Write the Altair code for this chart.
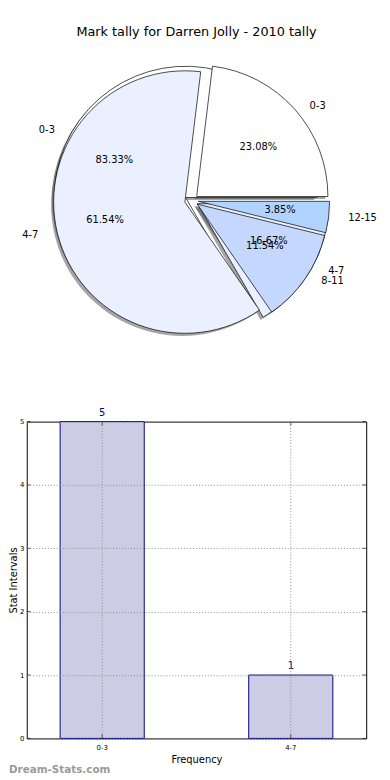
import altair as alt
import pandas as pd

TITLE = "Mark tally for Darren Jolly - 2010 tally"

# upper (drawn last) pie
top_labels = ["0-3", "4-7", "8-11", "12-15"]
top_values = [6, 16, 3, 1]
# underlying pie (drawn first)
base_labels = ["0-3", "4-7"]
base_values = [5, 1]
# bar chart
bar_labels = ["0-3", "4-7"]
bar_values = [5, 1]
y_ticks = [0, 1, 2, 3, 4, 5]

slice_colors = ["#ffffff", "#eaf0ff", "#c4d8ff", "#b0d4ff"]

FONT = "DejaVu Sans"
L = 26                      # page x of plot left edge
PIE_W, PIE_H = 370 - L, 340
BAR_W, BAR_H = 370 - L, 321
T1 = 44
CX, CY = 193 - L, 198 - T1
R = 133
RX, RY = 139, 125
EXPL = 0.05
PCT = 0.6
LAB = 1.1
SH = 2.6

pie_df = pd.DataFrame({
    "pie": ["base"] * len(base_labels) + ["top"] * len(top_labels),
    "label": base_labels + top_labels,
    "value": base_values + top_values,
    "idx": list(range(len(base_labels))) + list(range(len(top_labels))),
})

pie_base = (
    alt.Chart(pie_df)
    .transform_joinaggregate(total="sum(value)", groupby=["pie"])
    .transform_window(cum="sum(value)", sort=[alt.SortField("idx")],
                      groupby=["pie"], frame=[None, 0])
    .transform_calculate(
        a0="2*PI*(datum.cum - datum.value)/datum.total",
        a1="2*PI*datum.cum/datum.total",
    )
    .transform_calculate(
        mid="(datum.a0 + datum.a1)/2",
        t0="PI/2 - datum.a0",
        t1="PI/2 - datum.a1",
        pct="format(100*datum.value/datum.total, '.2f') + '%'",
    )
    .transform_calculate(
        cx=f"{CX} + {EXPL * RX}*cos(datum.mid)",
        cy=f"{CY} - {EXPL * RY}*sin(datum.mid)",
    )
    .transform_calculate(
        sx=f"datum.cx - {SH}",
        sy=f"datum.cy + {SH}",
        px=f"datum.cx + {PCT * RX}*cos(datum.mid)",
        py=f"datum.cy - {PCT * RY}*sin(datum.mid)",
        lx=f"datum.cx + {LAB * RX}*cos(datum.mid)",
        ly=f"datum.cy - {LAB * RY}*sin(datum.mid)",
        right="cos(datum.mid) > 0",
    )
)

shadow = pie_base.mark_arc(radius=R, fill="#4d4d4d", fillOpacity=0.5).encode(
    x=alt.X("sx:Q", scale=None),
    y=alt.Y("sy:Q", scale=None),
    theta=alt.Theta("t1:Q", scale=None),
    theta2="t0:Q",
)

wedges = pie_base.mark_arc(radius=R, stroke="black", strokeWidth=0.7).encode(
    x=alt.X("cx:Q", scale=None),
    y=alt.Y("cy:Q", scale=None),
    theta=alt.Theta("t1:Q", scale=None),
    theta2="t0:Q",
    fill=alt.Fill("label:N", scale=alt.Scale(domain=top_labels, range=slice_colors), legend=None),
)

pct_text = pie_base.mark_text(font=FONT, fontSize=10, color="black").encode(
    x=alt.X("px:Q", scale=None),
    y=alt.Y("py:Q", scale=None),
    text="pct:N",
)

lab_right = pie_base.transform_filter("datum.right").mark_text(
    font=FONT, fontSize=10, color="black", align="left"
).encode(x=alt.X("lx:Q", scale=None), y=alt.Y("ly:Q", scale=None), text="label:N")

lab_left = pie_base.transform_filter("!datum.right").mark_text(
    font=FONT, fontSize=10, color="black", align="right"
).encode(x=alt.X("lx:Q", scale=None), y=alt.Y("ly:Q", scale=None), text="label:N")

pie = alt.layer(shadow, wedges, pct_text, lab_right, lab_left).properties(
    width=PIE_W, height=PIE_H, view=alt.ViewBackground(strokeWidth=0)
)

# ---------------- bar chart ----------------
bar_df = pd.DataFrame({"interval": bar_labels, "count": bar_values})
tick_df = pd.DataFrame({"count": y_ticks})

grid_kw = dict(grid=True, gridDash=[1, 2], gridColor="#8f8f8f", gridWidth=1, zindex=1)
bx = alt.X(
    "interval:N", sort=bar_labels,
    scale=alt.Scale(paddingInner=0.554, paddingOuter=0.177),
    axis=alt.Axis(title="Frequency", labelAngle=0, labelFontSize=7, labelColor="black",
                  titleFontSize=10, titleFontWeight="normal", titleColor="black",
                  ticks=False, labelPadding=5, titlePadding=4, domain=False, **grid_kw),
)
by = alt.Y(
    "count:Q", scale=alt.Scale(domain=[0, 5], nice=False),
    axis=alt.Axis(values=y_ticks, title="Stat Intervals", labelFontSize=7,
                  labelColor="black", titleFontSize=10, titleFontWeight="normal",
                  titleColor="black", ticks=False, labelPadding=3,
                  titleX=-8, titleY=BAR_H / 2, titleAngle=270, titleAlign="center",
                  titleBaseline="bottom",
                  domain=False, **grid_kw),
)

bars = alt.Chart(bar_df).mark_bar(fill="#cccce5", stroke="#000080", strokeWidth=1).encode(
    x=bx, y=by
)
bar_text = alt.Chart(bar_df).mark_text(
    font=FONT, fontSize=10, color="#000080", baseline="bottom", dy=-4
).encode(x=bx, y=by, text="count:Q")

ytick_l = alt.Chart(tick_df).mark_tick(orient="horizontal", size=4, thickness=1, color="black").encode(
    y=by, x=alt.value(2))
ytick_r = alt.Chart(tick_df).mark_tick(orient="horizontal", size=4, thickness=1, color="black").encode(
    y=by, x=alt.value(BAR_W - 2))
xtick_b = alt.Chart(bar_df).mark_tick(orient="vertical", size=4, thickness=1, color="black").encode(
    x=bx, y=alt.value(BAR_H - 2))
xtick_t = alt.Chart(bar_df).mark_tick(orient="vertical", size=4, thickness=1, color="black").encode(
    x=bx, y=alt.value(2))

wm = alt.Chart(pd.DataFrame({"t": ["Dream-Stats.com"]})).mark_text(
    font=FONT, fontSize=10.5, fontWeight="bold", color="#9a9a9a", align="left", baseline="middle"
).encode(x=alt.value(8 - L), y=alt.value(BAR_H + 32), text="t:N")

bar = alt.layer(bars, bar_text, ytick_l, ytick_r, xtick_b, xtick_t, wm).properties(
    width=BAR_W, height=BAR_H,
    view=alt.ViewBackground(stroke="black", strokeWidth=1),
)

chart = alt.vconcat(
    pie, bar, spacing=422 - T1 - PIE_H, bounds="flush",
    title=alt.TitleParams(TITLE, fontSize=13, fontWeight="normal", font=FONT, color="black",
                          anchor="middle", frame="group", offset=10),
    padding={"left": 0, "top": 13, "right": 5, "bottom": 0},
).configure(font=FONT).configure_view(strokeWidth=0)

chart.save("out.html", embed_options={"renderer": "svg", "actions": False})
